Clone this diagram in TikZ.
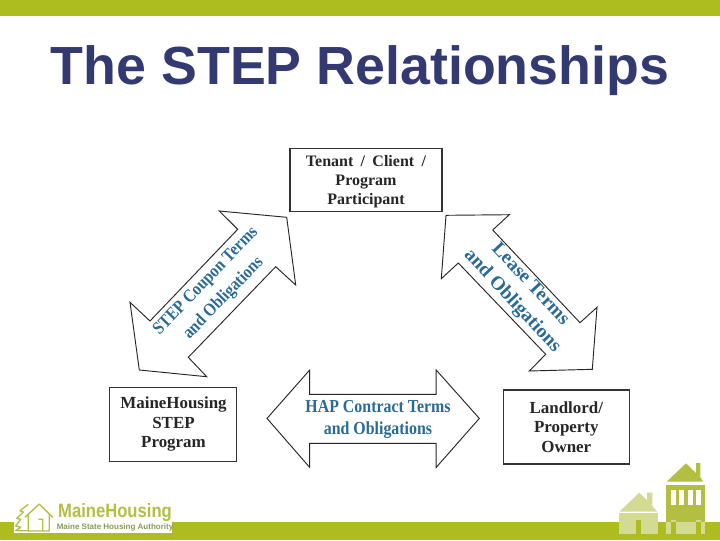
\documentclass[tikz,border=0pt]{standalone}
\usepackage{fontspec}
\setmainfont{Liberation Serif}
\setsansfont{Liberation Sans}
\newfontfamily\narrowserif[FakeStretch=0.87]{Liberation Serif}
\newfontfamily\narrowsans[FakeStretch=0.86]{Liberation Sans}
\usepackage{tikz}
\usetikzlibrary{calc,positioning}
\definecolor{barlime}{HTML}{ADBC1E}
\definecolor{titlenavy}{HTML}{333A72}
\definecolor{termblue}{HTML}{2A6A96}
\definecolor{housemid}{HTML}{B3BF43}
\definecolor{houselight}{HTML}{D3DA92}
\definecolor{logogrey}{HTML}{8A9A5A}

\begin{document}
\begin{tikzpicture}[x=0.75pt,y=-0.75pt,
	partybox/.style={draw=black!80,line width=0.8pt,fill=white,inner sep=0pt},
	partylabel/.style={align=center,inner sep=0pt,text=black!85},
	termlabel/.style={align=center,inner sep=0pt,text=termblue},
	bigarrow/.style={draw=black!85,line width=0.7pt,fill=white,line join=miter}]
	\useasboundingbox (0,0) rectangle (720,540);
	\fill[barlime] (0,0) rectangle (720,16);
	\fill[barlime] (0,522) rectangle (720,540);

	\node (title) at (360,70.5) [inner sep=0pt,text=titlenavy,font=\fontsize{40.3}{42}\selectfont\sffamily\bfseries] {The STEP Relationships};

	\node (participant) at (366,179.7) [partybox,minimum width=114pt,minimum height=47.5pt] {};
	\node (mainehousing) at (172.8,424.2) [partybox,minimum width=95.3pt,minimum height=55.3pt] {};
	\node (landlord) at (566.3,427) [partybox,minimum width=94.5pt,minimum height=55.5pt] {};

	\node (participanttext) at (366,181.5) [partylabel,font=\fontsize{12}{14}\selectfont\bfseries] {Tenant\hspace{2.5pt} /\hspace{2.5pt} Client\hspace{2.5pt} /\\Program\\Participant};
	\node (mainehousingtext) at (173.5,424) [partylabel,font=\fontsize{12.7}{14.7}\selectfont\bfseries] {MaineHousing\\STEP\\Program};
	\node (landlordtext) at (566.3,427) [partylabel,font=\fontsize{12.7}{14.7}\selectfont\bfseries] {Landlord/\\Property\\Owner};

	\draw[bigarrow] (219.3,211) -- (286.7,217.3) -- (295.7,285) -- (275.7,266.7) -- (188.3,357.3) -- (206.7,376.7) -- (139.3,370) -- (130,302.3) -- (150,321) -- (237.7,229.3) -- cycle;
	\draw[bigarrow] (446,215.3) -- (509.3,214.7) -- (492.7,230) -- (580,322.7) -- (597,307.3) -- (592.3,369.3) -- (529.3,371) -- (545.7,354.3) -- (458.3,263) -- (441.3,278.7) -- cycle;
	\draw[bigarrow] (267,418.4) -- (309.7,370) -- (309.7,394.3) -- (436.2,394.3) -- (436.2,370) -- (479.3,418.4) -- (436.2,467.4) -- (436.2,443.3) -- (309.7,443.3) -- (309.7,467.4) -- cycle;

	\node (couponterms) at (215,290) [termlabel,rotate=46,font=\fontsize{13.5}{18.5}\narrowserif\bfseries] {STEP Coupon Terms\\and Obligations};
	\node (leaseterms) at (521,293) [termlabel,rotate=-47,font=\fontsize{14.6}{18.5}\selectfont\bfseries] {Lease Terms\\and Obligations};
	\node (hapterms) at (378,419.5) [termlabel,font=\fontsize{13.7}{16.5}\narrowserif\bfseries] {HAP Contract Terms\\and Obligations};

	\fill[white] (14,503) rectangle (172,533);
	\draw[housemid,line width=1pt,line join=round] (25,517.3) -- (39.3,504) -- (52.7,517.3) (28.3,514) -- (28.3,531) -- (49.3,531) -- (49.3,514) (38.3,519.3) -- (42.7,519.3) -- (42.7,531);
	\draw[housemid,line width=1pt,line join=round] (28.3,504.3) -- (20,510.7) -- (23.3,512) -- (16.7,518.3) -- (20.7,519.3) -- (15.7,526) -- (20.7,527.3) -- (15.7,530.7) -- (28.3,530.7);
	\node (logoname) at (115,513) [inner sep=0pt,text=housemid,font=\fontsize{14.5}{15}\narrowsans\bfseries] {MaineHousing};
	\node (logosub) at (115,527.5) [inner sep=0pt,text=logogrey,font=\fontsize{6}{7}\selectfont\sffamily\bfseries] {Maine State Housing Authority};

	\fill[houselight] (619.3,511.7) -- (639.3,492.7) -- (647,500) -- (647,492.7) -- (652.3,492.7) -- (652.3,506) -- (657.3,511.7) -- cycle;
	\fill[houselight] (619,513.3) rectangle (657.7,534);
	\fill[barlime] (636,520) rectangle (640.7,534);

	\fill[housemid] (666.7,481.7) -- (686,463.3) -- (696,473) -- (696,463) -- (700.3,463) -- (700.3,477) -- (703.3,481.7) -- cycle;
	\fill[housemid] (666,485) rectangle (705,522);
	\fill[houselight] (666,522) rectangle (705,533.5);
	\foreach \winx/\winw in {671/5,679/5,688/4.7,696/4.7}
		\fill[white] (\winx,490) rectangle ++(\winw,14.5);
	\foreach \doorx in {671,696} {
		\fill[houselight] (\doorx,520) rectangle ++(4.8,2);
		\fill[barlime] (\doorx,522) rectangle ++(4.8,11.5);
	}
\end{tikzpicture}
\end{document}
